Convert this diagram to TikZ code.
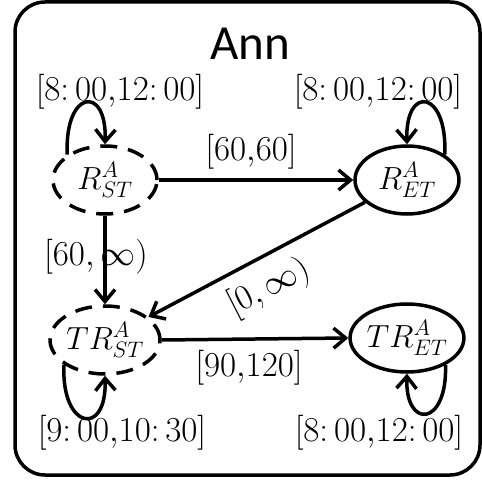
\RequirePackage{fix-cm}
\documentclass[tikz,border=0pt]{standalone}
\usepackage{fontspec}
\newfontfamily\annfont{Carlito}
\usetikzlibrary{arrows.meta,shapes.geometric}
\begin{document}
\begin{tikzpicture}[x=1pt,y=-1pt,
  every node/.style={inner sep=0pt},
  lab/.style={font=\fontsize{35}{40}\selectfont},
  state/.style={ellipse, draw, line width=3.5pt, minimum width=104pt,
    minimum height=68pt, font=\fontsize{32}{38}\selectfont},
  tentative/.style={state, dash pattern=on 17pt off 11pt},
  arr/.style={line width=3.5pt, -{Straight Barb[length=12pt,width=20pt]}}]
\useasboundingbox (0,0) rectangle (482,481);

% enclosing frame of the agent
\draw[line width=3.5pt, rounded corners=30pt] (15,2) rectangle (480,475);
\node[font=\annfont\fontsize{49}{55}\selectfont, anchor=base] (title) at (250,60) {Ann};

% states
\node[tentative] (rst) at (105,180) {$R^A_{ST}$};
\node[state]     (ret) at (407,180) {$R^A_{ET}$};
\node[tentative] (tst) at (105,340) {$TR^A_{ST}$};
\node[state]     (tet) at (407,338) {$TR^A_{ET}$};

% transitions between states
\draw[arr] (rst.east) -- (ret.west);
\node[lab] (l1) at (251,152) {$[60{,}60]$};
\draw[arr] (rst.south) -- (tst.north);
\node[lab] (l2) at (96,257) {$[60,\infty)$};
\draw[arr] (ret) -- (tst);
\node[lab, rotate=27] (l3) at (269,288) {$[0,\infty)$};
\draw[arr] (tst.east) -- (tet.west);
\node[lab] (l4) at (249,368) {$[90{,}120]$};

% self loops with time windows
\draw[arr] (rst.146) .. controls +(-3,-65) and +(2,-60) .. (rst.north);
\node[lab] (l5) at (120,92) {$[8\colon 00{,}12\colon 00]$};
\draw[arr] (ret.34) .. controls +(3,-65) and +(-2,-60) .. (ret.north);
\node[lab] (l6) at (378,92) {$[8\colon 00{,}12\colon 00]$};
\draw[arr] (tst.211) .. controls +(-3,65) and +(2,62) .. (tst.south);
\node[lab] (l7) at (122,433) {$[9\colon 00{,}10\colon 30]$};
\draw[arr] (tet.325) .. controls +(2,62) and +(-2,56) .. (tet.south);
\node[lab] (l8) at (379,433) {$[8\colon 00{,}12\colon 00]$};
\end{tikzpicture}
\end{document}
